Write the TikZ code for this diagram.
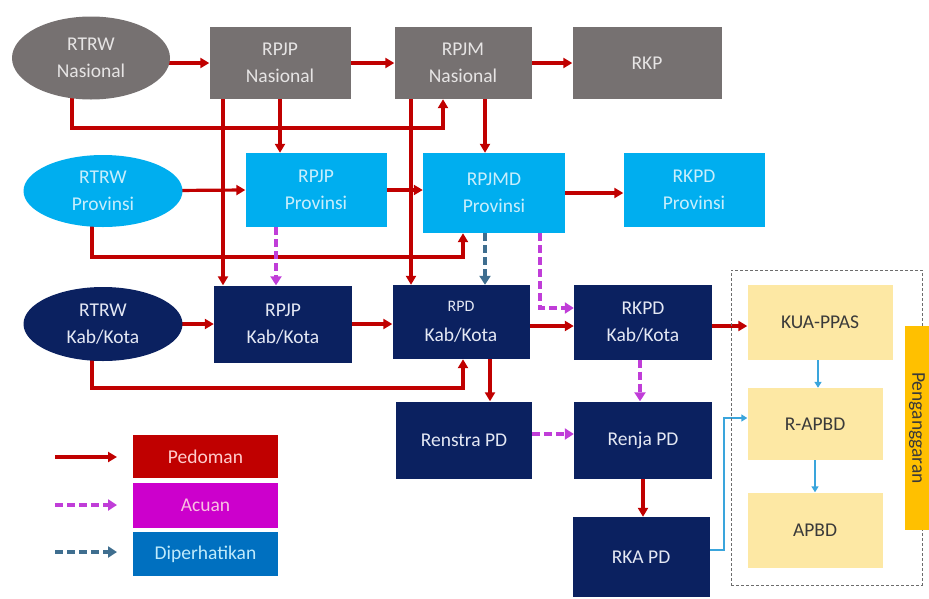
\documentclass[tikz,border=0pt]{standalone}
\usepackage{fontspec}
\setmainfont{Carlito}
\usetikzlibrary{arrows.meta,shapes.geometric,backgrounds,calc}
\definecolor{cgrey}{HTML}{767171}
\definecolor{cgreyt}{HTML}{E6E4E4}
\definecolor{clblue}{HTML}{00AEEF}
\definecolor{clbluet}{HTML}{C8EEFC}
\definecolor{cnavy}{HTML}{0B2160}
\definecolor{cnavyt}{HTML}{E4E8F4}
\definecolor{cpale}{HTML}{FDE8A4}
\definecolor{cpalet}{HTML}{3A3A3A}
\definecolor{cgold}{HTML}{FFC000}
\definecolor{cred}{HTML}{C00000}
\definecolor{cmag}{HTML}{C03DD8}
\definecolor{cslate}{HTML}{3F6E8F}
\definecolor{csky}{HTML}{3AA5DC}
\definecolor{clegred}{HTML}{C00000}
\definecolor{clegmag}{HTML}{CC00CC}
\definecolor{clegblue}{HTML}{0070C0}
\tikzset{
  base/.style={inner sep=2pt, align=center, font=\fontsize{19.5}{27}\selectfont},
  gbox/.style={base, rectangle, fill=cgrey, text=cgreyt},
  bbox/.style={base, rectangle, fill=clblue, text=clbluet},
  nbox/.style={base, rectangle, fill=cnavy, text=cnavyt},
  ybox/.style={base, rectangle, fill=cpale, text=cpalet},
  gell/.style={base, ellipse, fill=cgrey, text=cgreyt},
  bell/.style={base, ellipse, fill=clblue, text=clbluet},
  nell/.style={base, ellipse, fill=cnavy, text=cnavyt},
  sz/.style 2 args={minimum width=#1pt, minimum height=#2pt},
  ped/.style={draw=cred, line width=3.2pt, -{Triangle[length=9pt,width=10pt]}},
  acu/.style={draw=cmag, line width=3.4pt, dash pattern=on 8pt off 4pt, -{Triangle[length=9pt,width=11pt]}},
  dip/.style={draw=cslate, line width=3.4pt, dash pattern=on 8pt off 4pt, -{Triangle[length=9pt,width=11pt]}},
  sky/.style={draw=csky, line width=1.6pt, -{Triangle[length=6pt,width=7pt]}},
  legbox/.style={base, rectangle, minimum width=145pt},
}
\begin{document}
\begin{tikzpicture}[x=1pt,y=-1pt]
\useasboundingbox (0,0) rectangle (929,598);
% national
\node[gell, sz={158}{83}] (rtrwn) at (91,58) {RTRW\\Nasional};
\node[gbox, sz={141}{72}] (rpjpn) at (280,63) {RPJP\\Nasional};
\node[gbox, sz={137}{72}] (rpjmn) at (463,63) {RPJM\\Nasional};
\node[gbox, sz={149}{72}] (rkp) at (647,63) {RKP};
% provincial
\node[bell, sz={159}{72}] (rtrwp) at (103,191) {RTRW\\Provinsi};
\node[bbox, sz={141}{74}] (rpjpp) at (316,190) {RPJP\\Provinsi};
\node[bbox, sz={142}{80}] (rpjmdp) at (494,193) {RPJMD\\Provinsi};
\node[bbox, sz={141}{74}] (rkpdp) at (694,190) {RKPD\\Provinsi};
% kab/kota
\node[nell, sz={159}{74}] (rtrwk) at (103,324) {RTRW\\Kab/Kota};
\node[nbox, sz={138}{77}] (rpjpk) at (283,324) {RPJP\\Kab/Kota};
\node[nbox, sz={137}{74}] (rpdk) at (461,322) {{\fontsize{16}{18}\selectfont RPD}\\[3pt]Kab/Kota};
\node[nbox, sz={138}{75}] (rkpdk) at (643,322) {RKPD\\Kab/Kota};
\node[nbox, sz={136}{77}] (renstra) at (464,440) {Renstra PD};
\node[nbox, sz={138}{77}] (renja) at (643,440) {Renja PD};
\node[nbox, sz={137}{80}] (rka) at (641,557) {RKA PD};
% budgeting
\node[draw=gray!85!black, line width=1pt, dash pattern=on 3pt off 2pt, minimum width=191pt, minimum height=315pt, inner sep=0pt] (frame) at (826.5,427.5) {};
\node[ybox, sz={145}{75}] (kua) at (820,322) {KUA-PPAS};
\node[ybox, sz={135}{72}] (rapbd) at (815,424) {R-APBD};
\node[ybox, sz={135}{75}] (apbd) at (815,530) {APBD};
\node[base, fill=cgold, text=cpalet, minimum width=204pt, minimum height=24pt, rotate=-90, inner sep=0pt] (pang) at (917,428) {Penganggaran};
% legend
\node[legbox, fill=clegred, text=red!20!white, minimum height=43pt] (lped) at (205.5,456.5) {Pedoman};
\node[legbox, fill=clegmag, text=magenta!25!white, minimum height=45pt] (lacu) at (205.5,505.5) {Acuan};
\node[legbox, fill=clegblue, text=cyan!25!white, minimum height=44pt] (ldip) at (205.5,554) {Diperhatikan};
\coordinate (l1s) at (55,457); \coordinate (l1e) at (117,457);
\coordinate (l2s) at (55,505); \coordinate (l2e) at (117,505);
\coordinate (l3s) at (55,552); \coordinate (l3e) at (117,552);
\draw[ped] (l1s) -- (l1e);
\draw[acu] (l2s) -- (l2e);
\draw[dip] (l3s) -- (l3e);
\begin{pgfonlayer}{background}
% pedoman
\draw[ped] (rpjpn.west -| rtrwn.center) -- (rpjpn.west);
\draw[ped] (rpjpn.east) -- (rpjmn.west);
\draw[ped] (rpjmn.east) -- (rkp.west);
\draw[ped] ([xshift=-19pt]rtrwn.center) -- ++(0,70) -| ([xshift=-20pt]rpjmn.south);
\draw[ped] (rpjpn.south) -- (rpjpn.south |- rpjpp.north);
\draw[ped] ([xshift=-57pt]rpjpn.south) -- ([xshift=-57pt]rpjpn.south |- rpjpk.north);
\draw[ped] ([xshift=-52pt]rpjmn.south) -- ([xshift=-52pt]rpjmn.south |- rpdk.north);
\draw[ped] ([xshift=22pt]rpjmn.south) -- ([xshift=22pt]rpjmn.south |- rpjmdp.north);
\draw[ped] (rtrwp.center) -- (rpjpp.west);
\draw[ped] (rpjpp.east) -- (rpjpp.east -| rpjmdp.west);
\draw[ped] (rpjmdp.east) -- (rpjmdp.east -| rkpdp.west);
\draw[ped] ([xshift=-11pt]rtrwp.center) -- ++(0,66) -| ([xshift=-31pt]rpjmdp.south);
\draw[ped] (rtrwk.center) -- (rpjpk.west);
\draw[ped] (rpjpk.east) -- (rpjpk.east -| rpdk.west);
\draw[ped] ([yshift=-4pt]rpdk.east) -- ([yshift=-4pt]rkpdk.west);
\draw[ped] ([xshift=-11pt]rtrwk.center) -- ++(0,64) -| ([xshift=2pt]rpdk.south);
\draw[ped] ([xshift=29pt]rpdk.south) -- ([xshift=29pt]rpdk.south |- renstra.north);
\draw[ped] ([yshift=-4pt]rkpdk.east) -- ([yshift=-4pt]kua.west);
\draw[ped] (renja.south) -- (renja.south |- rka.north);
% acuan
\draw[acu] ([xshift=-40pt]rpjpp.south) -- ([xshift=-40pt]rpjpp.south |- rpjpk.north);
\draw[acu] ([xshift=46pt]rpjmdp.south) |- ([yshift=14pt]rkpdk.west);
\draw[acu] ([xshift=-3pt]rkpdk.south) -- ([xshift=-3pt]rkpdk.south |- renja.north);
\draw[acu] ([yshift=6pt]renstra.east) -- ([yshift=6pt]renja.west);
% diperhatikan
\draw[dip] ([xshift=-9pt]rpjmdp.south) -- ([xshift=-9pt]rpjmdp.south |- rpdk.north);
% budgeting flow
\draw[sky] ([xshift=-2pt]kua.south) -- ([xshift=-2pt]kua.south |- rapbd.north);
\draw[sky] (rapbd.south) -- (apbd.north);
\draw[sky] ([yshift=7pt]rka.east) -- ++(14,0) |- ([yshift=6pt]rapbd.west);
\end{pgfonlayer}
\end{tikzpicture}
\end{document}
